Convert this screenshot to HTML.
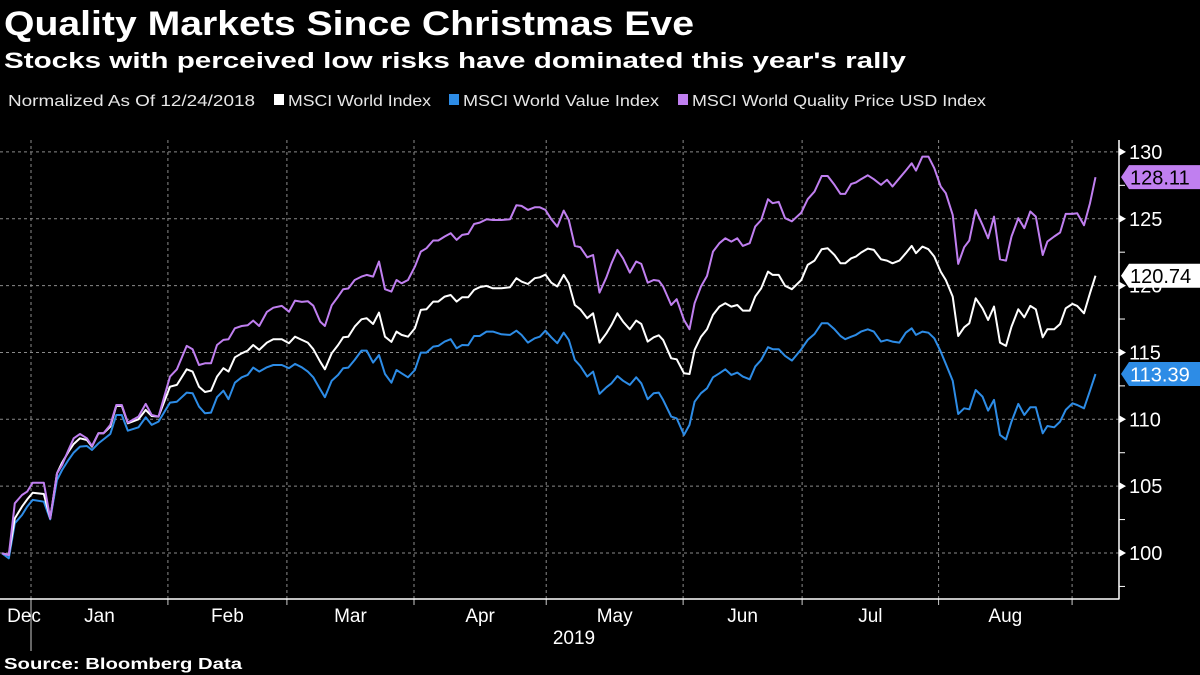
<!DOCTYPE html>
<html><head><meta charset="utf-8"><style>
html,body{margin:0;padding:0;background:#000;}
svg{display:block;font-family:"Liberation Sans",sans-serif;}
</style></head><body>
<svg id="chart" width="1200" height="675" viewBox="0 0 1200 675">
<text x="4" y="35" fill="#fff" font-size="34" font-weight="bold" textLength="690" lengthAdjust="spacingAndGlyphs">Quality Markets Since Christmas Eve</text>
<text x="4" y="68" fill="#fff" font-size="22" font-weight="bold" textLength="902" lengthAdjust="spacingAndGlyphs">Stocks with perceived low risks have dominated this year's rally</text>
<g>
<text x="8" y="106" fill="#e6e6e6" font-size="16" textLength="247" lengthAdjust="spacingAndGlyphs">Normalized As Of 12/24/2018</text>
<rect x="274" y="94" width="10" height="11" fill="#fff"/>
<text x="288" y="106" fill="#e6e6e6" font-size="16" textLength="143" lengthAdjust="spacingAndGlyphs">MSCI World Index</text>
<rect x="449" y="94" width="10" height="11" fill="#2d8ce6"/>
<text x="463" y="106" fill="#e6e6e6" font-size="16" textLength="196" lengthAdjust="spacingAndGlyphs">MSCI World Value Index</text>
<rect x="678" y="94" width="10" height="11" fill="#c07ff0"/>
<text x="692" y="106" fill="#e6e6e6" font-size="16" textLength="294" lengthAdjust="spacingAndGlyphs">MSCI World Quality Price USD Index</text>
</g>
<g id="grid"></g><g id="axes"></g><g id="series"></g><g id="tags"></g>
<text x="4" y="669" fill="#fff" font-size="16" font-weight="bold" textLength="238" lengthAdjust="spacingAndGlyphs">Source: Bloomberg Data</text>
</svg>
<script>
const days=[0,1.6,3.0,4.7,5.9,7.2,9.8,11.3,12.9,14.1,15.6,16.8,18.3,19.9,21.1,22.6,23.8,25.4,26.8,28.1,29.5,32.0,33.7,35.1,36.7,39.4,41.0,43.3,44.7,46.2,47.6,49.0,50.4,51.9,53.1,54.6,56.2,57.6,58.9,60.3,62.1,63.6,65.6,67.3,68.7,70.3,71.7,73.0,74.6,75.7,77.3,78.8,80.0,81.2,82.7,84.3,85.5,87.0,88.4,89.8,91.3,92.5,93.7,
95.2,96.8,98.2,99.5,101.1,102.3,103.8,105.2,106.6,107.9,109.3,110.7,112.0,113.6,115.1,117.1,119.1,120.6,121.8,123.3,124.9,126.1,127.4,128.8,130.2,131.7,132.9,134.3,135.6,137.2,138.6,140.1,141.7,142.9,144.3,145.6,147.2,148.7,149.9,151.4,152.8,154.0,155.0,156.9,158.2,159.9,161.2,162.4,163.9,165.3,166.7,168.2,169.6,171.0,172.4,173.7,175.3,176.6,178.0,179.6,180.7,182.1,183.6,185.2,187.4,
188.9,190.5,192.2,193.6,195.2,196.6,197.7,199.1,200.2,201.4,203.0,204.4,206.1,207.5,208.8,210.4,211.9,213.3,214.3,215.8,217.2,218.6,220.1,221.3,222.9,224.2,225.6,226.8,228.3,229.9,231.2,232.6,234.0,235.4,236.7,238.3,239.7,241.1,242.4,244.0,245.1,246.7,248.1,249.4,251.0,252.1,253.7,255.1,256.4];
const quality=[99.98,99.85,103.72,104.34,104.59,105.26,105.26,102.59,105.96,106.58,107.71,108.58,108.90,108.58,108.00,108.95,108.95,109.58,111.07,111.07,109.75,110.20,111.15,110.32,110.20,113.19,113.74,115.49,115.24,114.06,114.19,114.19,115.56,115.94,115.99,116.81,116.98,117.03,117.38,116.98,118.03,118.35,118.48,118.05,118.88,118.78,118.83,118.50,117.31,116.98,118.53,119.18,119.73,119.78,120.42,120.67,120.80,120.67,121.80,119.73,119.55,120.42,120.17,
120.42,121.42,122.54,122.79,123.37,123.37,123.67,123.92,123.42,123.79,123.87,124.61,124.71,124.96,124.91,124.91,124.96,126.01,125.96,125.66,125.86,125.86,125.66,124.96,124.41,125.61,124.91,122.97,122.87,122.12,122.29,119.48,120.62,121.67,122.67,122.04,120.97,121.80,121.62,120.22,120.42,120.37,119.93,118.55,118.98,117.43,116.73,118.68,119.93,120.72,122.54,123.17,123.54,123.29,123.54,122.97,123.17,124.41,124.91,126.46,126.16,126.26,125.04,124.81,125.46,
126.46,127.03,128.20,128.20,127.53,126.86,126.86,127.61,127.71,127.96,128.25,127.96,127.53,127.91,127.41,128.03,128.60,129.15,128.60,129.65,129.65,128.78,127.41,126.91,125.29,121.62,122.87,123.37,125.66,124.54,123.54,125.16,121.97,121.87,123.67,125.04,124.29,125.54,125.16,122.29,123.29,123.67,123.97,125.36,125.36,125.41,124.51,126.16,128.11];
const world=[99.98,99.85,102.59,103.47,104.01,104.51,104.41,102.59,105.96,106.76,107.58,108.15,108.58,108.45,107.96,108.95,108.95,109.45,111.00,111.00,109.70,110.00,110.70,110.25,110.20,112.44,112.57,113.74,113.57,112.44,112.04,112.14,113.19,113.82,113.57,114.64,114.94,115.14,115.56,115.19,115.74,115.99,115.99,115.69,116.18,115.94,115.74,115.24,114.31,113.74,114.94,115.56,116.13,116.18,116.93,117.48,117.56,117.13,117.98,116.18,115.79,116.56,116.31,
116.18,116.81,118.18,118.23,118.80,118.80,119.18,119.30,118.80,119.13,119.13,119.68,119.88,119.98,119.80,119.80,119.88,120.55,120.30,120.12,120.55,120.62,120.82,120.22,119.93,120.80,120.17,118.55,118.23,117.56,117.93,115.74,116.43,117.06,117.93,117.31,116.73,117.38,117.13,115.81,116.13,116.28,115.94,114.56,114.49,113.44,113.39,115.19,116.18,116.73,117.81,118.43,118.68,118.43,118.55,118.13,118.13,119.18,119.80,121.05,120.80,120.80,119.98,119.73,120.42,
121.55,121.87,122.72,122.79,122.29,121.67,121.67,122.04,122.17,122.47,122.77,122.67,121.97,121.87,121.67,121.87,122.42,122.97,122.42,122.92,122.72,122.17,121.05,120.42,119.18,116.23,116.88,117.18,119.05,118.30,117.43,118.43,115.74,115.49,116.93,118.23,117.63,118.48,118.23,116.13,116.73,116.73,117.13,118.30,118.63,118.48,117.93,119.43,120.74];
const value=[99.98,99.60,102.22,102.84,103.47,103.97,103.84,102.52,105.46,106.21,106.96,107.51,107.96,108.00,107.71,108.20,108.50,108.90,110.32,110.32,109.15,109.40,110.15,109.58,109.83,111.25,111.32,112.00,111.95,110.95,110.45,110.50,111.65,112.14,111.50,112.74,113.14,113.32,113.87,113.57,113.89,114.06,114.06,113.82,114.14,113.89,113.57,113.14,112.24,111.65,112.89,113.32,113.82,113.87,114.44,115.14,115.14,114.24,114.81,113.39,112.74,113.69,113.44,
113.14,113.69,114.99,114.99,115.44,115.49,115.81,115.99,115.31,115.56,115.54,116.23,116.23,116.56,116.56,116.36,116.31,116.63,116.31,115.74,116.06,116.18,116.63,116.13,115.69,116.48,115.94,114.44,113.99,113.19,113.57,111.90,112.39,112.69,113.24,112.89,112.57,113.14,112.69,111.50,111.95,112.00,111.45,110.20,110.07,108.83,109.58,111.32,111.95,112.32,113.14,113.44,113.74,113.32,113.49,113.19,112.99,113.94,114.44,115.39,115.24,115.24,114.74,114.39,115.24,
115.94,116.38,117.18,117.18,116.73,116.23,115.99,116.18,116.31,116.56,116.73,116.56,115.81,115.94,115.81,115.74,116.48,116.81,116.31,116.56,116.48,116.06,115.06,114.14,112.89,110.40,110.82,110.75,112.19,111.70,110.65,111.45,108.83,108.50,109.83,111.15,110.32,110.90,110.90,108.95,109.50,109.40,109.83,110.70,111.20,111.07,110.82,112.14,113.39];
const yTicks=[100,105,110,115,120,125,130];
const yMinor=[97.5,102.5,107.5,112.5,117.5,122.5,127.5];
const monthLabels=["Dec","Jan","Feb","Mar","Apr","May","Jun","Jul","Aug"];
const monthStarts=[-8,6.8,38.9,66.8,96.6,127.6,159.7,187.6,219.6,250.9];
const lastLabels=["128.11","120.74","113.39"];

const NS="http://www.w3.org/2000/svg";
const X0=2,XS=4.265,Y0=553,YS=13.37,AX=1119,AXB=599,AXT=140;
const xs=d=>X0+d*XS, ys=v=>Y0-(v-100)*YS;
function mk(tag,attrs,parent,txt){const e=document.createElementNS(NS,tag);for(const k in attrs)e.setAttribute(k,attrs[k]);if(txt!=null)e.textContent=txt;parent.appendChild(e);return e;}
const grid=document.getElementById('grid'),axes=document.getElementById('axes'),ser=document.getElementById('series'),tags=document.getElementById('tags');
yTicks.forEach(v=>{
  const l=mk('line',{x1:0,x2:AX,y1:ys(v),y2:ys(v),stroke:'#8a8a8a','stroke-width':1,'stroke-dasharray':'3,3'},grid);
  
  
  const tk=mk('path',{d:`M${AX} ${ys(v)-4} L${AX+7} ${ys(v)} L${AX} ${ys(v)+4}Z`,fill:'#fff'},axes);
  
  
  const t=mk('text',{x:AX+10,y:ys(v)+7,fill:'#fff','font-size':20},axes,String(v));
  
  
});
yMinor.forEach(v=>{
  const tk=mk('line',{x1:AX,x2:AX+6,y1:ys(v),y2:ys(v),stroke:'#fff','stroke-width':1},axes);
  
  
});
monthStarts.slice(1).forEach((d,i)=>{
  const l=mk('line',{x1:xs(d),x2:xs(d),y1:AXT,y2:AXB,stroke:'#8a8a8a','stroke-width':1,'stroke-dasharray':'3,3'},grid);
  
  
  const tk=mk('line',{x1:xs(d),x2:xs(d),y1:AXB,y2:AXB+(i===0?52:6),stroke:'#ccc','stroke-width':1},axes);
  
  
});
monthLabels.forEach((m,i)=>{
  let c=(xs(Math.max(monthStarts[i],-5))+xs(monthStarts[i+1]))/2;
  if(i===0)c=24;
  const t=mk('text',{x:c,y:622,fill:'#fff','font-size':19,'text-anchor':'middle'},axes,m);
  
  
});
const yr=mk('text',{x:574,y:644,fill:'#fff','font-size':19,'text-anchor':'middle'},axes,'2019');


const ax1=mk('line',{x1:0,x2:AX+0.5,y1:AXB,y2:AXB,stroke:'#fff','stroke-width':1.5},axes);


const ax2=mk('line',{x1:AX,x2:AX,y1:AXT,y2:AXB,stroke:'#fff','stroke-width':1.5},axes);


const seriesList=[['value-index-line',value,'#2d8ce6'],['world-index-line',world,'#ffffff'],['quality-index-line',quality,'#c07ff0']];
seriesList.forEach(([name,arr,col])=>{
  const p=mk('polyline',{points:arr.map((v,i)=>xs(days[i]).toFixed(1)+','+ys(v).toFixed(1)).join(' '),fill:'none',stroke:col,'stroke-width':2,'stroke-linejoin':'round'},ser);
  
  
});
const tagDefs=[[quality,'#c07ff0','#000','quality-last-value-tag'],[world,'#ffffff','#000','world-last-value-tag'],[value,'#2d8ce6','#fff','value-last-value-tag']];
tagDefs.forEach(([arr,bg,fg,name],i)=>{
  const y=ys(arr[arr.length-1]);
  const g=mk('g',{},tags);
  
  
  mk('path',{d:`M${AX+2} ${y} L${AX+10} ${y-12} L1200 ${y-12} L1200 ${y+12} L${AX+10} ${y+12}Z`,fill:bg},g);
  mk('text',{x:AX+11,y:y+7.5,fill:fg,'font-size':20},g,lastLabels[i]);
});
</script>
</body></html>
